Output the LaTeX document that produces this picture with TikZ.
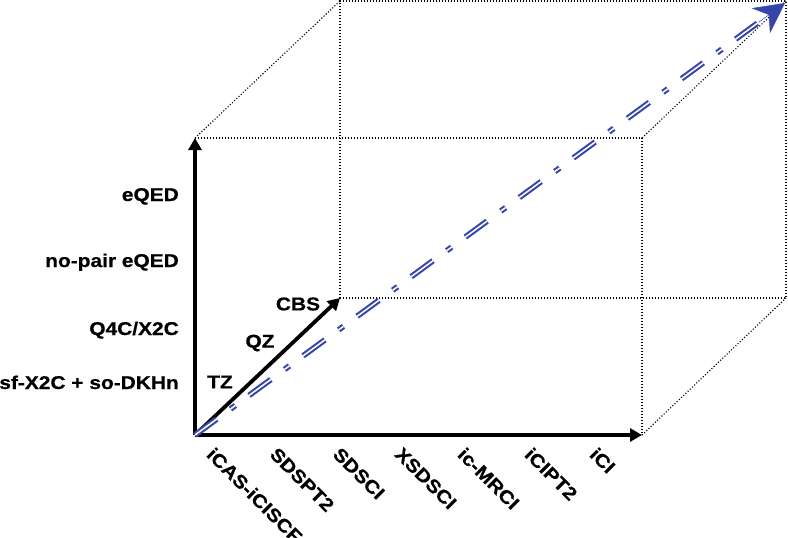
\documentclass[tikz,border=0pt]{standalone}
\usepackage{fontspec}
\setmainfont[FakeStretch=1.13, BoldFeatures={FakeBold=0.6}]{Liberation Sans}
\usetikzlibrary{arrows.meta,calc}
\definecolor{bluec}{RGB}{55,70,170}
\tikzset{
  lbl/.style={font=\fontsize{18.5}{21}\selectfont\bfseries, inner sep=0pt},
  dotline/.style={line width=1.1pt, dash pattern=on 1.1pt off 1.9pt, black},
  axis/.style={line width=3.8pt, black, -{Triangle[length=12pt,width=13pt]}},
  bluedash/.style={draw=bluec, double=white, line width=2.1pt, double distance=1.5pt,
     dash pattern=on 27pt off 17pt on 6pt off 17pt},
  bluehead/.style={bluec, line width=0.5pt, -{Stealth[length=30pt,width=31pt,inset=10pt]}}
}
\begin{document}
\begin{tikzpicture}[x=1pt,y=-1pt]
\useasboundingbox (0,0) rectangle (788,538);
% cube corners
\coordinate (O) at (195,435);
\coordinate (Y) at (195,138);
\coordinate (X) at (642,435);
\coordinate (FTR) at (642,138);
\coordinate (Z) at (340,298);
\coordinate (BTL) at (340,1);
\coordinate (BTR) at (786,1);
\coordinate (BBR) at (786,298);
\coordinate (T) at (785,3);
% dotted box
\draw[dotline] (Y) -- (FTR) -- (X);
\draw[dotline] (Z) -- (BTL) -- (BTR) -- (BBR) -- cycle;
\draw[dotline] (Y) -- (BTL);
\draw[dotline] (FTR) -- (BTR);
\draw[dotline] (X) -- (BBR);
% axes
\draw[axis] (O) -- (Y);
\draw[axis] (O) -- (X);
\draw[axis] (O) -- (Z);
% blue arrow
\coordinate (Tb) at ($(O)!0.965!(T)$);
\draw[bluedash] (O) -- (Tb);
\draw[bluehead] ($(O)!0.955!(T)$) -- (T);
% left labels
\node[lbl, anchor=base east] (l1) at (179,201) {eQED};
\node[lbl, anchor=base east] (l2) at (179,267) {no-pair eQED};
\node[lbl, anchor=base east] (l3) at (179,335) {Q4C/X2C};
\node[lbl, anchor=base east] (l4) at (179,389) {sf-X2C + so-DKHn};
% depth labels
\node[lbl] (tz) at (220,382) {TZ};
\node[lbl] (qz) at (260,343) {QZ};
\node[lbl] (cbs) at (298,304) {CBS};
% bottom labels
\node[lbl, rotate=-45, anchor=north west] (b1) at (215,446) {iCAS-iCISCF};
\node[lbl, rotate=-45, anchor=north west] (b2) at (278,446) {SDSPT2};
\node[lbl, rotate=-45, anchor=north west] (b3) at (341,446) {SDSCI};
\node[lbl, rotate=-45, anchor=north west] (b4) at (403,446) {XSDSCI};
\node[lbl, rotate=-45, anchor=north west] (b5) at (466,446) {ic-MRCI};
\node[lbl, rotate=-45, anchor=north west] (b6) at (533,446) {iCIPT2};
\node[lbl, rotate=-45, anchor=north west] (b7) at (598,446) {iCI};
\end{tikzpicture}
\end{document}
